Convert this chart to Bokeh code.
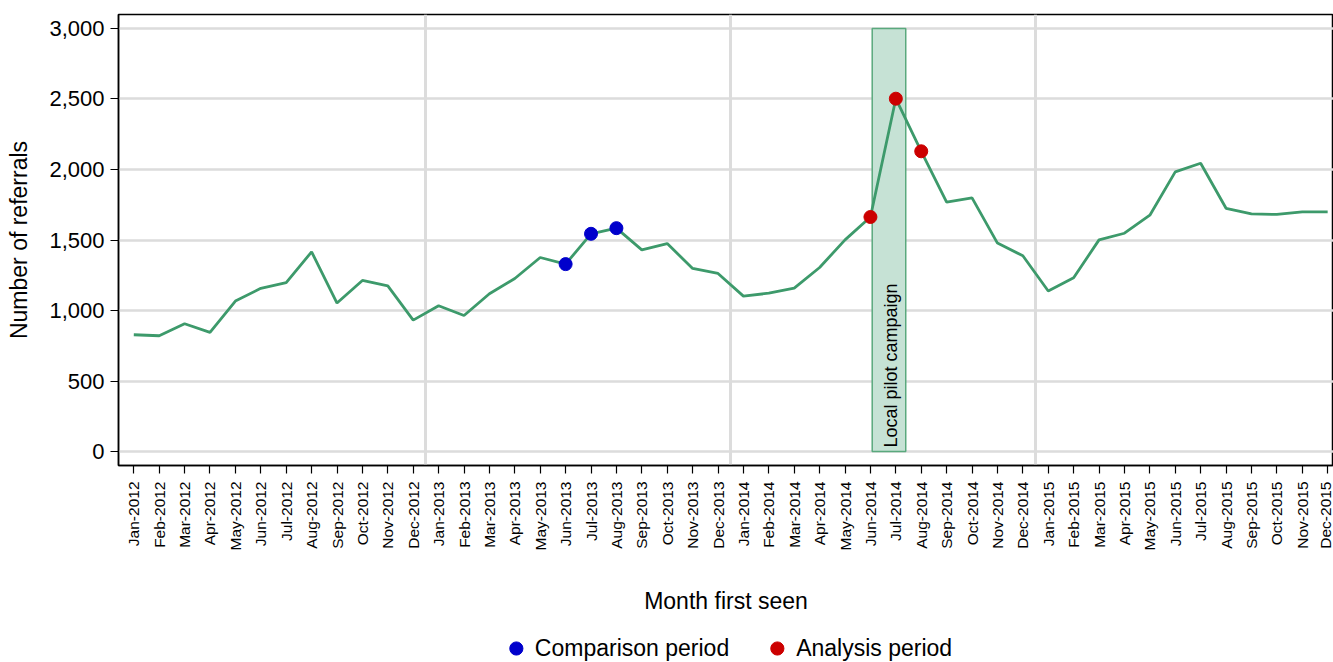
from math import pi
from bokeh.plotting import figure
from bokeh.layouts import column
from bokeh.models import (FixedTicker, NumeralTickFormatter, Label, Legend, LegendItem)
from bokeh.embed import file_html
from bokeh.resources import INLINE

# ---------------- data ----------------
months = [
    "Jan-2012", "Feb-2012", "Mar-2012", "Apr-2012", "May-2012", "Jun-2012",
    "Jul-2012", "Aug-2012", "Sep-2012", "Oct-2012", "Nov-2012", "Dec-2012",
    "Jan-2013", "Feb-2013", "Mar-2013", "Apr-2013", "May-2013", "Jun-2013",
    "Jul-2013", "Aug-2013", "Sep-2013", "Oct-2013", "Nov-2013", "Dec-2013",
    "Jan-2014", "Feb-2014", "Mar-2014", "Apr-2014", "May-2014", "Jun-2014",
    "Jul-2014", "Aug-2014", "Sep-2014", "Oct-2014", "Nov-2014", "Dec-2014",
    "Jan-2015", "Feb-2015", "Mar-2015", "Apr-2015", "May-2015", "Jun-2015",
    "Jul-2015", "Aug-2015", "Sep-2015", "Oct-2015", "Nov-2015", "Dec-2015",
]
referrals = [
    828, 821, 906, 845, 1067, 1157, 1197, 1416, 1053, 1213, 1175, 932,
    1034, 965, 1119, 1227, 1376, 1329, 1544, 1584, 1430, 1475, 1298, 1263,
    1102, 1123, 1159, 1305, 1501, 1663, 2502, 2129, 1768, 1799, 1478, 1388,
    1138, 1232, 1501, 1548, 1676, 1983, 2044, 1725, 1685, 1681, 1700, 1700,
]
comparison_months = ["Jun-2013", "Jul-2013", "Aug-2013"]
analysis_months = ["Jun-2014", "Jul-2014", "Aug-2014"]
year_end_months = ["Dec-2012", "Dec-2013", "Dec-2014"]
campaign_start = 29.07   # in month-index units (early Jun-2014)
campaign_end = 30.39     # mid Jul-2014
campaign_top = 3000
campaign_label = "Local pilot campaign"
y_ticks = [0, 500, 1000, 1500, 2000, 2500, 3000]

# ---------------- derived ----------------
x = list(range(len(months)))
idx = {m: i for i, m in enumerate(months)}
cmp_x = [idx[m] for m in comparison_months]
cmp_y = [referrals[i] for i in cmp_x]
ana_x = [idx[m] for m in analysis_months]
ana_y = [referrals[i] for i in ana_x]
year_breaks = [idx[m] + 0.5 for m in year_end_months]

FONT = "Liberation Sans"
GRID = "#dcdcdc"
LINE = "#3d9a6b"
BLUE = "#0000cc"
RED = "#cc0000"

W = 1333
H_MAIN = 634
H_LEG = 28

p = figure(width=W, height=H_MAIN, output_backend="svg", toolbar_location=None,
           x_range=(-0.602, 47.23), y_range=(-99, 3099),
           min_border_left=118, min_border_right=0, min_border_top=14,
           min_border_bottom=169)
p.title.visible = False
p.background_fill_color = "white"
p.border_fill_color = "white"
p.outline_line_color = "black"
p.outline_line_width = 1.5

# grids
p.ygrid.ticker = FixedTicker(ticks=y_ticks)
p.ygrid.grid_line_color = GRID
p.ygrid.grid_line_width = 2.5
p.xgrid.ticker = FixedTicker(ticks=year_breaks)
p.xgrid.grid_line_color = GRID
p.xgrid.grid_line_width = 3

# y axis
p.yaxis.ticker = FixedTicker(ticks=y_ticks)
p.yaxis.formatter = NumeralTickFormatter(format="0,0")
p.yaxis.axis_label = "Number of referrals"
p.yaxis.axis_label_standoff = 14
p.yaxis.major_label_standoff = 6
p.yaxis.major_label_text_font_size = "22px"

# x axis
p.xaxis.ticker = FixedTicker(ticks=x)
p.xaxis.major_label_overrides = {i: m for i, m in enumerate(months)}
p.xaxis.major_label_orientation = pi / 2
p.xaxis.axis_label = "Month first seen"
p.xaxis.axis_label_standoff = 35
p.xaxis.major_label_standoff = 8
p.xaxis.major_label_text_font_size = "15.5px"

for ax in (p.xaxis[0], p.yaxis[0]):
    ax.major_label_text_font = FONT
    ax.major_label_text_color = "black"
    ax.axis_label_text_font = FONT
    ax.axis_label_text_font_size = "23px"
    ax.axis_label_text_font_style = "normal"
    ax.axis_label_text_color = "black"
    ax.axis_line_color = "black"
    ax.axis_line_width = 1.5
    ax.major_tick_line_color = "black"
    ax.major_tick_line_width = 1.2
    ax.major_tick_out = 8
    ax.major_tick_in = 0
    ax.minor_tick_line_color = None

# campaign box
p.quad(left=[campaign_start], right=[campaign_end], bottom=[0], top=[campaign_top],
       fill_color="#c6e2d5", fill_alpha=1.0, line_color="#5aa97d", line_width=1.5)
p.add_layout(Label(x=campaign_end - 0.57, y=28, text=campaign_label, angle=pi / 2,
                   text_align="left", text_baseline="middle", text_font=FONT,
                   text_font_size="18px", text_color="black"))

# series
p.line(x, referrals, line_color=LINE, line_width=2.8)
p.scatter(cmp_x, cmp_y, size=13, fill_color=BLUE, line_color=BLUE)
p.scatter(ana_x, ana_y, size=13, fill_color=RED, line_color=RED)

# ---------------- legend strip below the chart ----------------
# the strip's ranges (0..1) keep the same points out of view; only the legend shows
pl = figure(width=W, height=H_LEG, output_backend="svg", toolbar_location=None,
            x_range=(0, 1), y_range=(0, 1), x_axis_type=None, y_axis_type=None,
            min_border_left=118, min_border_right=0, min_border_top=0,
            min_border_bottom=0)
pl.title.visible = False
pl.outline_line_color = None
pl.background_fill_color = "white"
pl.border_fill_color = "white"
leg_cmp = pl.scatter(cmp_x, cmp_y, size=13, fill_color=BLUE, line_color=BLUE)
leg_ana = pl.scatter(ana_x, ana_y, size=13, fill_color=RED, line_color=RED)
legend = Legend(items=[LegendItem(label="Comparison period", renderers=[leg_cmp]),
                       LegendItem(label="Analysis period", renderers=[leg_ana])],
                orientation="horizontal", location="center",
                glyph_width=33, glyph_height=33, label_standoff=3, spacing=31,
                label_text_font=FONT, label_text_font_size="23px",
                label_text_color="black", padding=0, margin=0,
                border_line_alpha=0, background_fill_alpha=0)
pl.add_layout(legend)

layout = column(p, pl, spacing=0)
open("out.html", "w").write(file_html(layout, INLINE))
